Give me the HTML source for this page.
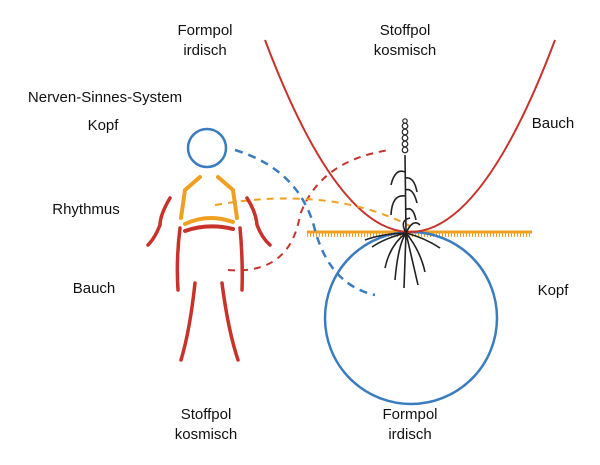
<!DOCTYPE html>
<html><head><meta charset="utf-8"><style>
html,body{margin:0;padding:0;background:#fff;width:600px;height:465px;overflow:hidden}
svg text{font-family:"Liberation Sans",sans-serif;font-size:15px;fill:#111;text-anchor:middle}
</style></head><body>
<svg width="600" height="465" viewBox="0 0 600 465" xmlns="http://www.w3.org/2000/svg">
<text x="205" y="35">Formpol</text><text x="205" y="55">irdisch</text>
<text x="405" y="35">Stoffpol</text><text x="405" y="55">kosmisch</text>
<text x="105" y="102">Nerven-Sinnes-System</text>
<text x="103" y="130">Kopf</text>
<text x="553" y="128">Bauch</text>
<text x="86" y="214">Rhythmus</text>
<text x="94" y="293">Bauch</text>
<text x="553" y="295">Kopf</text>
<text x="206" y="419">Stoffpol</text><text x="206" y="439">kosmisch</text>
<text x="410" y="419">Formpol</text><text x="410" y="439">irdisch</text>

<line x1="307" y1="232" x2="532" y2="232" stroke="#f0a020" stroke-width="3"/>
<line x1="307" y1="235" x2="532" y2="235" stroke="#f0a020" stroke-width="4" stroke-dasharray="1 2"/>
<circle cx="411" cy="318" r="86" fill="none" stroke="#3a7cc0" stroke-width="2.5"/>
<path d="M265 40 Q410 424 555 40" fill="none" stroke="#c8322a" stroke-width="2"/>
<path d="M235 150 Q300 170 315 230 Q330 285 375 295" fill="none" stroke="#3a7cc0" stroke-width="2.5" stroke-dasharray="8 6"/>
<path d="M228 270 Q290 275 300 215 Q320 160 390 150" fill="none" stroke="#c8322a" stroke-width="2" stroke-dasharray="7 6"/>
<path d="M215 205 Q330 185 410 226" fill="none" stroke="#f0a020" stroke-width="2" stroke-dasharray="7 6"/>
<circle cx="207" cy="148" r="19" fill="none" stroke="#3a7cc0" stroke-width="2.5"/>
<g fill="none" stroke-linecap="round" stroke-width="4">
<path d="M200 177 L185 190 L181 218" stroke="#f0a020"/>
<path d="M218 177 L233 190 L237 218" stroke="#f0a020"/>
<path d="M185 224 Q208 213 233 222" stroke="#f0a020"/>
<path d="M185 231 Q208 223 233 229" stroke="#c8322a"/>
<path d="M170 198 Q160 215 160 225 Q155 238 148 245" stroke="#c8322a" stroke-width="3.5"/>
<path d="M247 198 Q256 212 257 225 Q262 238 270 245" stroke="#c8322a" stroke-width="3.5"/>
<path d="M180 228 Q176 260 178 290" stroke="#c8322a" stroke-width="3.5"/>
<path d="M240 228 Q243 260 242 290" stroke="#c8322a" stroke-width="3.5"/>
<path d="M195 283 Q190 330 181 360" stroke="#c8322a" stroke-width="3.5"/>
<path d="M222 283 Q228 330 238 360" stroke="#c8322a" stroke-width="3.5"/>
</g>
<g fill="none" stroke="#222" stroke-width="1.6">
<path d="M406 233 L405 155"/>
<g stroke-width="1.2">
<circle cx="405" cy="126" r="2.8"/><circle cx="405" cy="132" r="2.8"/><circle cx="405" cy="138" r="2.8"/><circle cx="405" cy="144" r="2.8"/><circle cx="405" cy="150" r="2.8"/><circle cx="405" cy="121" r="2.2"/>
</g>
<path d="M405 172 Q395 168 391 185 M405 178 Q414 176 417 192 M405 190 Q413 187 417 203 M405 196 Q392 194 391 215 M405 210 Q413 205 416 220"/>
<path d="M406 233 Q413 218 420 225 M406 233 Q399 220 410 218"/>
<path d="M406 233 Q398 245 395 280 M406 233 Q410 250 418 285 M406 233 Q385 238 372 247 M406 233 Q425 238 440 248 M406 233 L404 288 M406 233 Q390 245 385 268 M406 233 Q420 250 425 272 M406 233 Q380 234 365 240"/>
</g>
</svg>
</body></html>
